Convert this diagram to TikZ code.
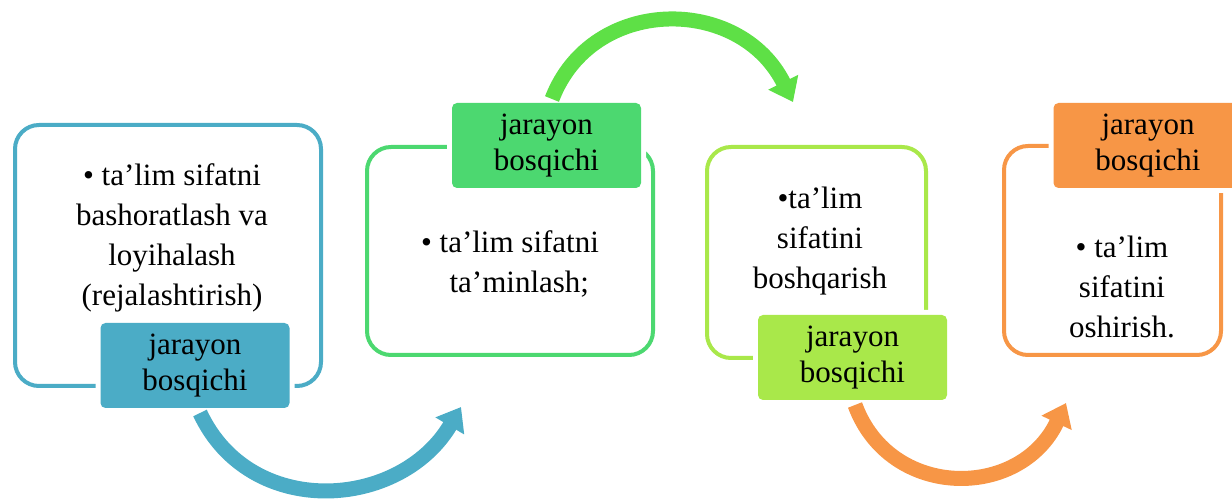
\documentclass[tikz,border=0pt]{standalone}
\usepackage{fontspec}
\setmainfont{Liberation Serif}
\usetikzlibrary{arrows.meta}
\definecolor{stBlue}{HTML}{4BACC6}
\definecolor{stGreen}{HTML}{4CD870}
\definecolor{stGreenArrow}{HTML}{5EE046}
\definecolor{stLime}{HTML}{A9E84A}
\definecolor{stOrange}{HTML}{F79646}
\begin{document}
\begin{tikzpicture}[x=0.5pt,y=-0.5pt,
	stage/.style={draw=#1,line width=2pt,rounded corners=12pt,fill=white},
	tag/.style={fill=#1,rounded corners=2.5pt,minimum width=94.5pt,minimum height=42.5pt,
		preaction={draw=white,line width=5pt},align=center,inner sep=0pt,
		font=\fontsize{15.5}{18}\selectfont},
	body/.style={align=center,inner sep=0pt,font=\fontsize{15.5}{20}\selectfont},
	flow/.style={draw=#1,line width=7.5pt,-{Triangle[width=16pt,length=11pt]}}]
\useasboundingbox (0,0) rectangle (1232,501);
% stage frames
\node (box1) at (168,255.5) [stage=stBlue,minimum width=153pt,minimum height=130.5pt] {};
\node (box2) at (510,251) [stage=stGreen,minimum width=143pt,minimum height=104pt] {};
\node (box3) at (816.5,252.5) [stage=stLime,minimum width=109.5pt,minimum height=105.5pt] {};
\node (box4) at (1112.5,250.5) [stage=stOrange,minimum width=108.5pt,minimum height=104.5pt] {};
% stage texts
\node (txt1) at (172,238) [body] {• ta’lim sifatni\\bashoratlash va\\loyihalash\\(rejalashtirish)};
\node (txt2) at (510,264) [body] {• ta’lim sifatni\\\hphantom{• }ta’minlash;};
\node (txt3) at (820,241) [body] {•ta’lim\\sifatini\\boshqarish};
\node (txt4) at (1122,287) [body] {• ta’lim\\sifatini\\oshirish.};
% tags
\node (tag1) at (195,365.5) [tag=stBlue] {jarayon\\bosqichi};
\node (tag2) at (546.5,145.5) [tag=stGreen] {jarayon\\bosqichi};
\node (tag3) at (852.5,357.5) [tag=stLime] {jarayon\\bosqichi};
\node (tag4) at (1148,145.5) [tag=stOrange] {jarayon\\bosqichi};
% arrows between stages
\coordinate (a1s) at (200,413);
\coordinate (a1e) at (461,407);
\coordinate (a2s) at (552,99);
\coordinate (a2e) at (793,102);
\coordinate (a3s) at (855,405);
\coordinate (a3e) at (1066,403);
\draw[flow=stBlue] (a1s) .. controls (250,520) and (400,510) .. (a1e);
\draw[flow=stGreenArrow] (a2s) .. controls (592,-5) and (740,-5) .. (a2e);
\draw[flow=stOrange] (a3s) .. controls (890,500) and (1020,500) .. (a3e);
\end{tikzpicture}
\end{document}
